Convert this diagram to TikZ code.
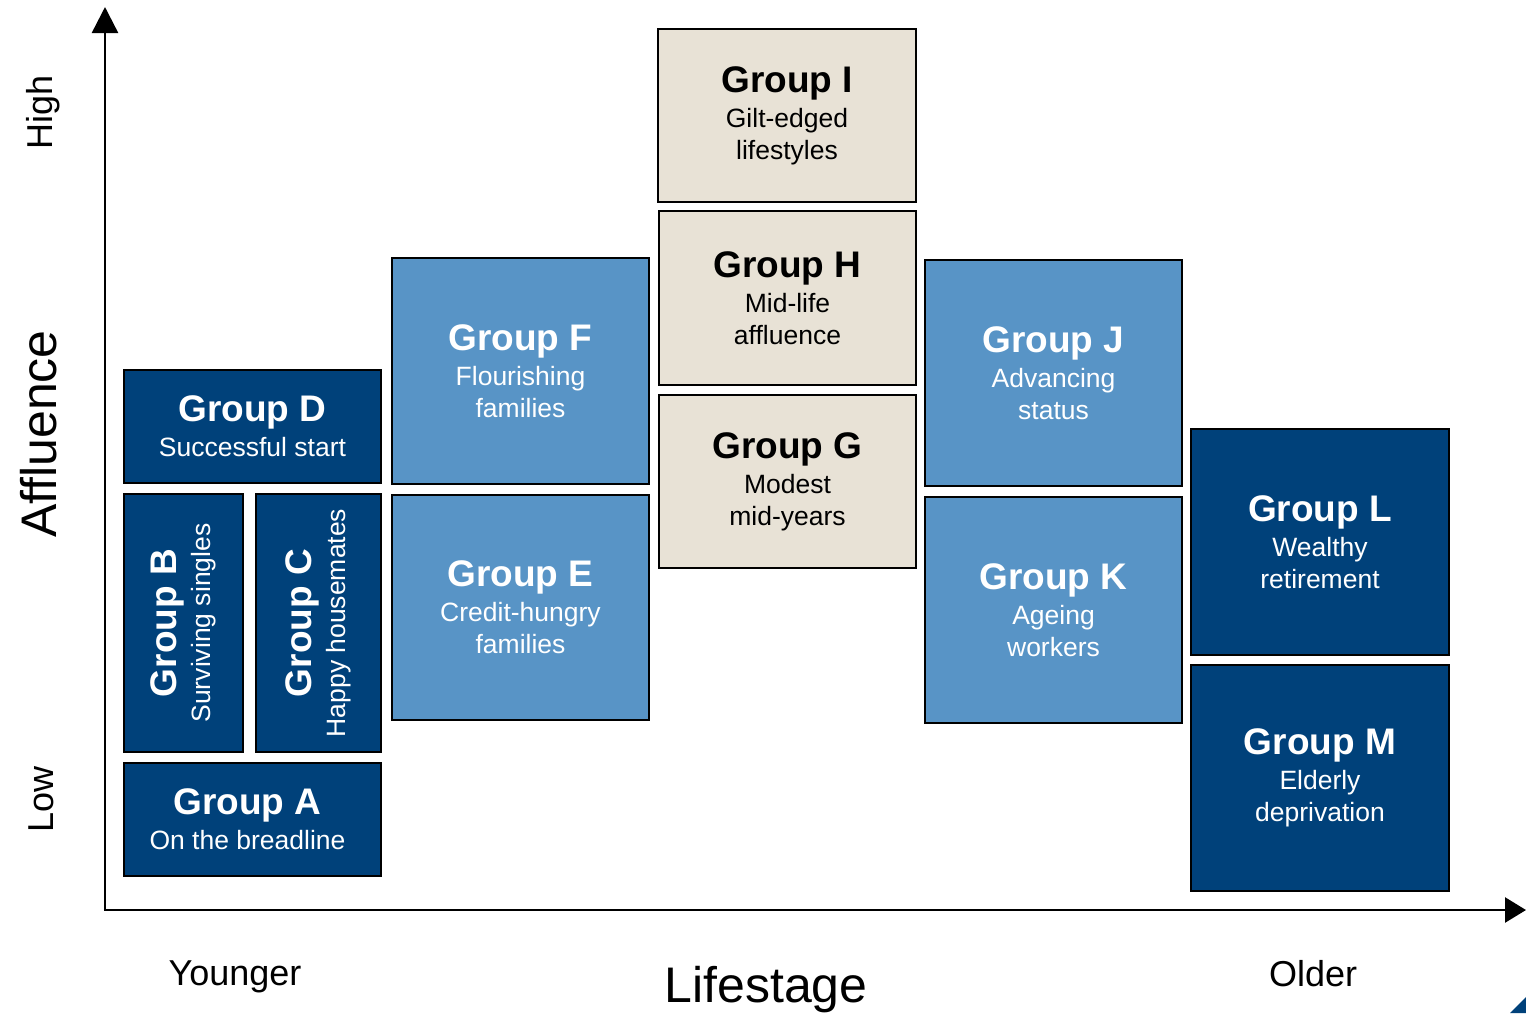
\documentclass[tikz,border=0pt]{standalone}
\usepackage{fontspec}
\setmainfont{Liberation Sans}
\usetikzlibrary{arrows.meta}
\definecolor{dblue}{RGB}{0,65,122}
\definecolor{mblue}{RGB}{88,148,198}
\definecolor{beige}{RGB}{232,226,214}
\newcommand{\grouptitle}[1]{{\fontsize{37}{33}\selectfont\bfseries #1}}
\tikzset{
  grp/.style={draw=black, line width=1.6pt, anchor=north west, inner sep=0pt, outer sep=0pt,
    align=center, font=\fontsize{26.5}{32}\selectfont},
  dark/.style={grp, fill=dblue, text=white},
  mid/.style={grp, fill=mblue, text=white},
  light/.style={grp, fill=beige, text=black},
  boxtext/.style={align=center, inner sep=0pt, font=\fontsize{26.5}{32}\selectfont},
  axislabel/.style={font=\fontsize{36}{40}\selectfont, anchor=base, inner sep=0pt},
  axisline/.style={line width=2.5pt},
}
\begin{document}
\begin{tikzpicture}[x=1pt,y=-1pt]
\useasboundingbox (0,0) rectangle (1526,1013);
% axes
\coordinate (origin) at (105,910);
\coordinate (ytip) at (105,7);
\coordinate (xtip) at (1526,910);
\draw[axisline, -{Triangle[length=26pt,width=26pt]}] (origin) -- (ytip);
\draw[axisline, -{Triangle[length=21pt,width=25pt]}] ([xshift=-1.25pt]origin) -- (xtip);
% axis labels
\node[axislabel, rotate=90] (high) at (52,112) {High};
\node[axislabel, rotate=90] (low) at (53,799) {Low};
\node[axislabel, rotate=90, font=\fontsize{50}{54}\selectfont] (affl) at (56,434) {Affluence};
\node[axislabel] (younger) at (235,985) {Younger};
\node[axislabel] (older) at (1313,986) {Older};
\node[axislabel, font=\fontsize{50}{54}\selectfont] (lifestage) at (766,1002) {Lifestage};
% groups
\node[light, minimum width=258pt, minimum height=173pt] (I) at (658,29) {\grouptitle{Group I}\\[3pt]Gilt-edged\\lifestyles};
\node[light, minimum width=257pt, minimum height=174pt] (H) at (659,211) {\grouptitle{Group H}\\[3pt]Mid-life\\affluence};
\node[light, minimum width=257pt, minimum height=173pt] (G) at (659,395) {\grouptitle{Group G}\\[3pt]Modest\\mid-years};
\node[mid, minimum width=257pt, minimum height=226pt] (F) at (392,258) {\grouptitle{Group F}\\[3pt]Flourishing\\families};
\node[mid, minimum width=257pt, minimum height=225pt] (E) at (392,495) {\grouptitle{Group E}\\[3pt]Credit-hungry\\families};
\node[mid, minimum width=257pt, minimum height=226pt] (J) at (925,260) {\grouptitle{Group J}\\[3pt]Advancing\\status};
\node[mid, minimum width=257pt, minimum height=226pt] (K) at (925,497) {\grouptitle{Group K}\\[3pt]Ageing\\workers};
\node[dark, minimum width=258pt, minimum height=226pt] (L) at (1191,429) {\grouptitle{Group L}\\[3pt]Wealthy\\retirement};
\node[dark, minimum width=258pt, minimum height=226pt] (M) at (1191,665) {\grouptitle{Group M}\\[3pt]Elderly\\deprivation};
\node[dark, minimum width=257pt, minimum height=113pt] (D) at (124,370) {\grouptitle{Group D}\\[3pt]Successful start};
\node[dark, minimum width=257pt, minimum height=113pt] (A) at (124,763) {};
\node[boxtext, text=white] (Atext) at ([xshift=-5pt]A.center) {\grouptitle{Group A}\\[3pt]On the breadline};
\node[dark, anchor=center, rotate=90, minimum width=258pt, minimum height=119pt] (B) at (183.5,623) {\grouptitle{Group B}\\[2pt]Surviving singles};
\node[dark, anchor=center, rotate=90, minimum width=258pt, minimum height=125pt] (C) at (318.5,623) {\grouptitle{Group C}\\[2pt]Happy housemates};
% corner fragment
\fill[dblue] (1510,1013) -- (1526,997) -- (1526,1013) -- cycle;
\end{tikzpicture}
\end{document}
